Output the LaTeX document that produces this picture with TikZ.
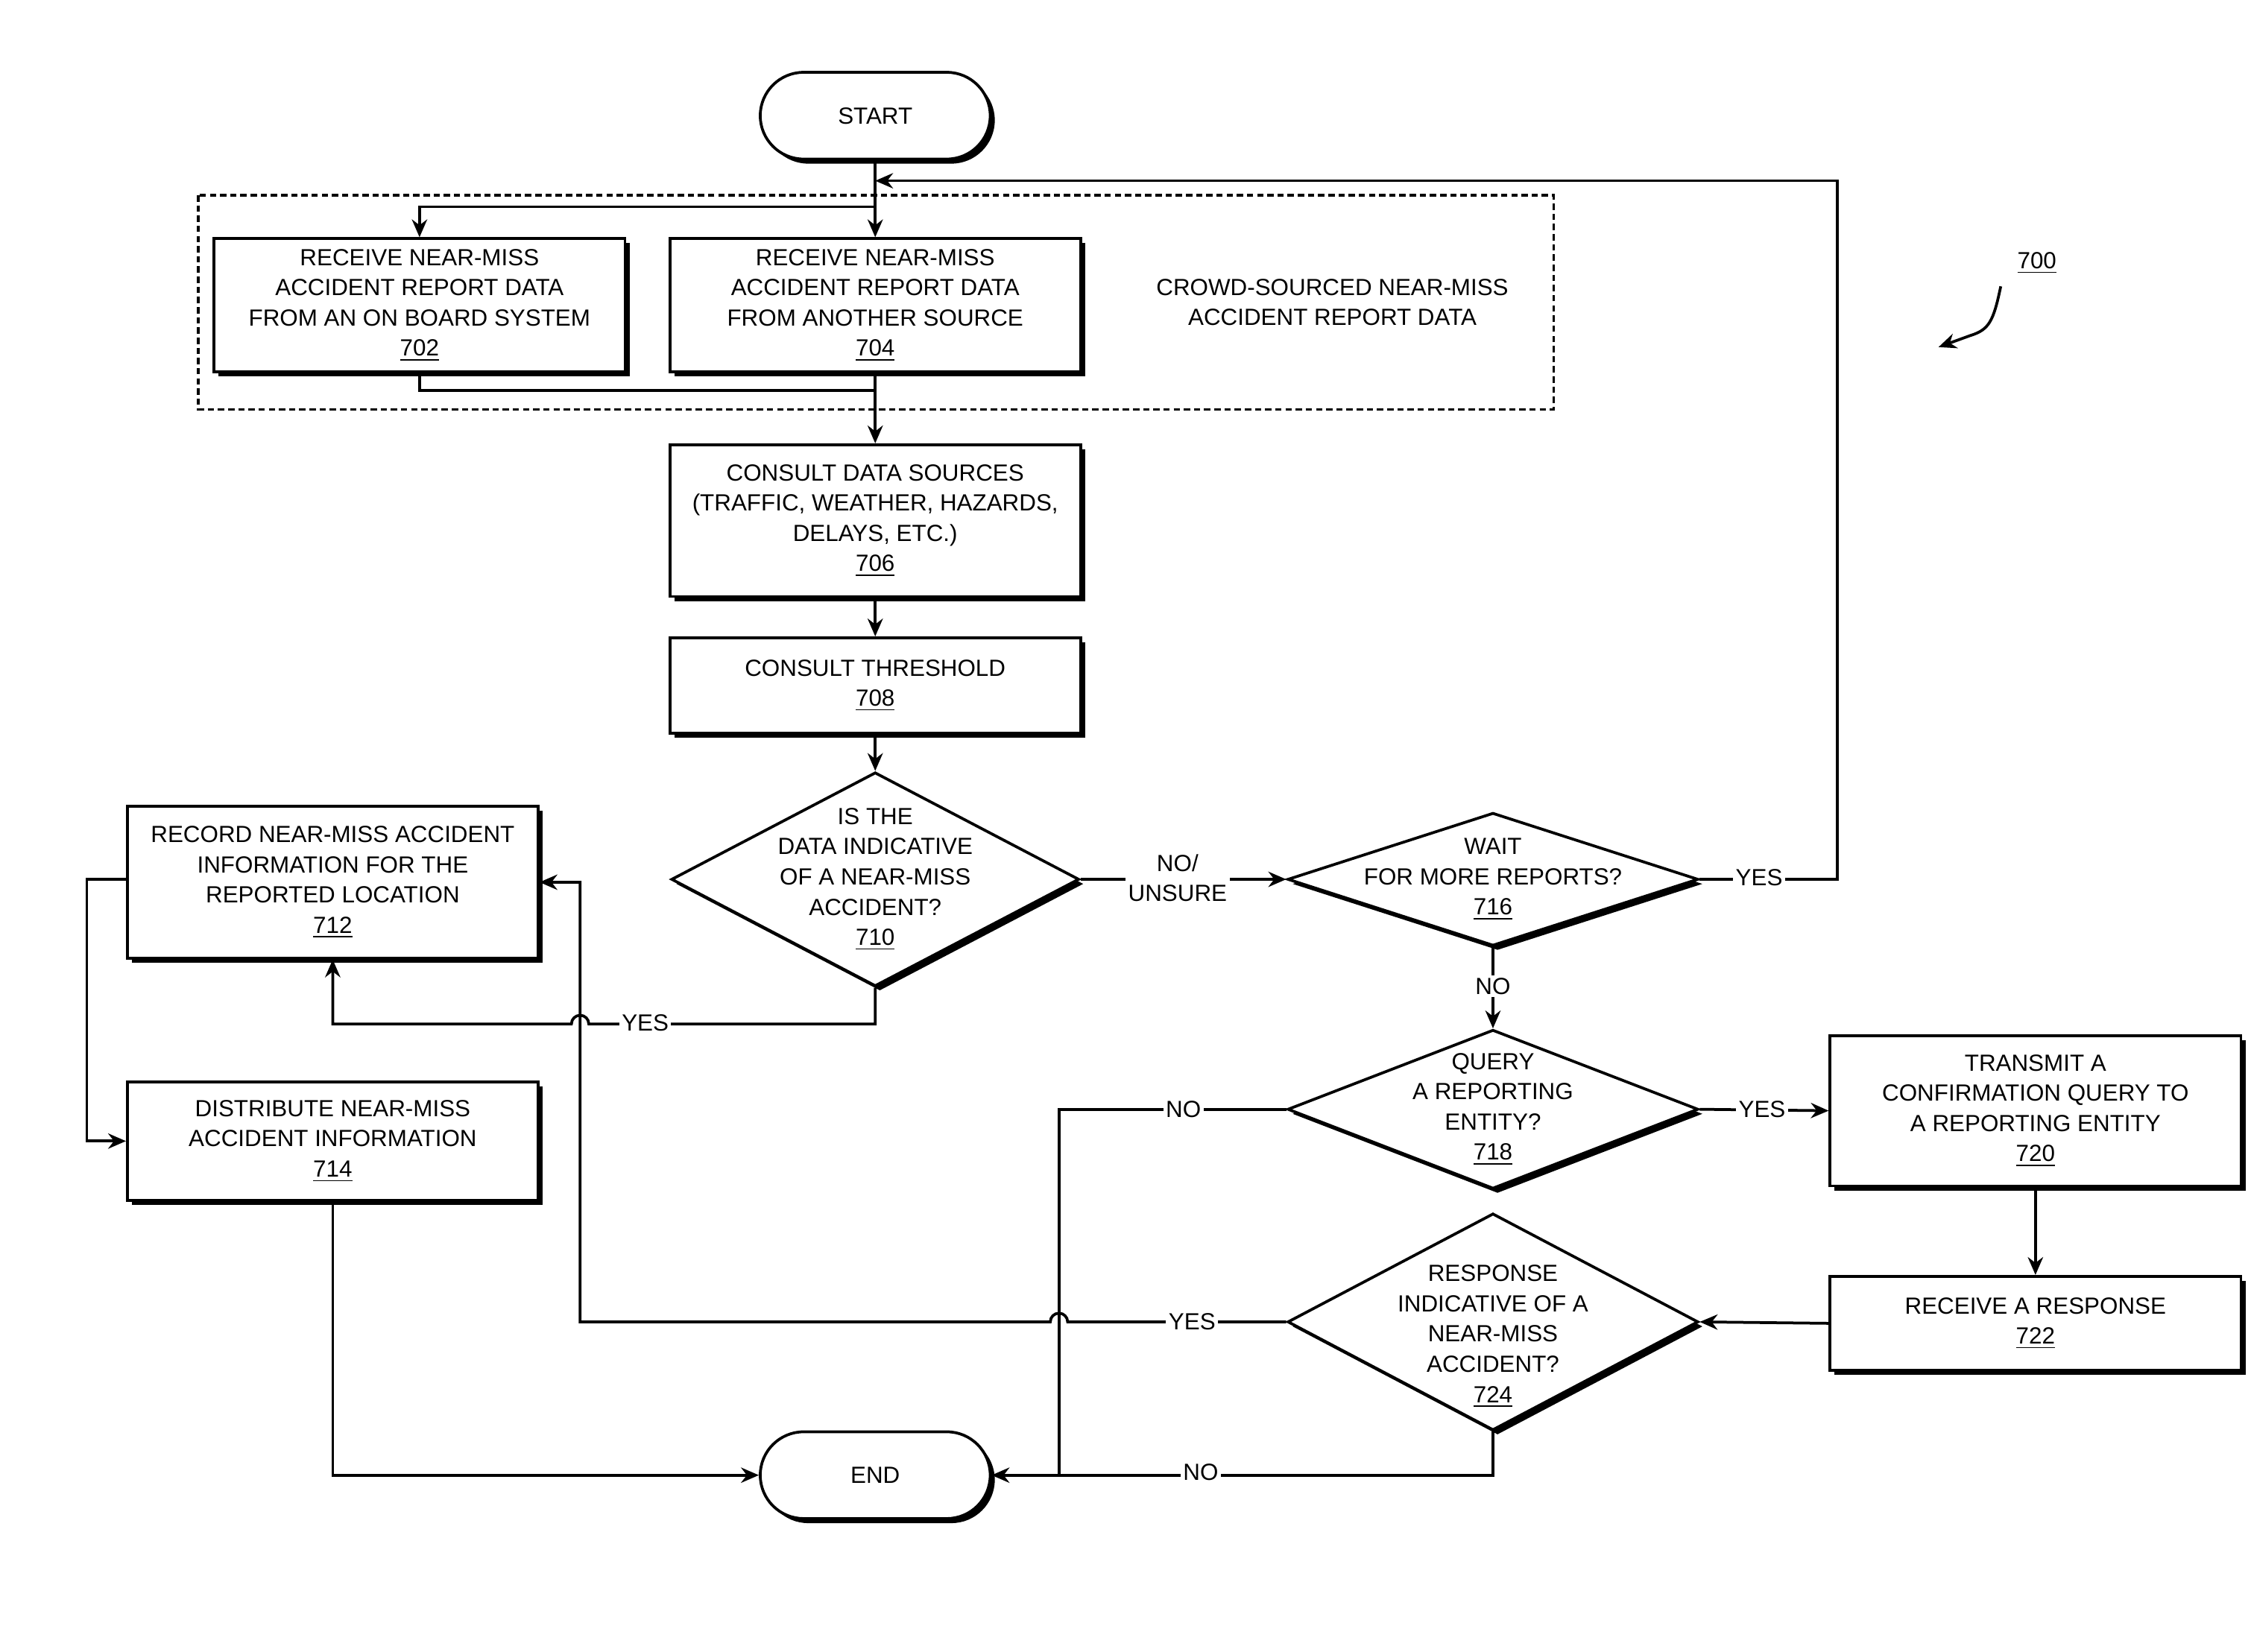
\documentclass[tikz,border=0pt]{standalone}
\usepackage{fontspec}
\setmainfont{Liberation Sans}
\usetikzlibrary{shapes.geometric,shadows,arrows.meta}
\begin{document}
\begin{tikzpicture}[x=0.02cm,y=-0.02cm,
  font=\fontsize{9.2}{11.9}\selectfont,
  sh/.style={drop shadow={shadow xshift=1.8pt,shadow yshift=-1.8pt,fill=black,opacity=1}},
  box/.style={draw,line width=1.1pt,fill=white,sh,align=center,inner sep=0pt},
  term/.style={box,rounded corners=0.6cm,minimum width=3.18cm,minimum height=1.2cm},
  dia/.style={draw,diamond,line width=1.1pt,fill=white,sh,inner sep=0pt},
  txt/.style={align=center,inner sep=0pt},
  lab/.style={fill=white,inner sep=1pt,align=center},
  ln/.style={line width=1.1pt},
  ar/.style={ln,-{Stealth[length=7pt,width=6pt]}}]
\useasboundingbox (0,0) rectangle (1556,1142);
\node[term] (start) at (605,80) {START};
\draw[line width=1pt,dash pattern=on 2.5pt off 1.5pt] (137,135) rectangle (1074,283);
\node[box,minimum width=5.68cm,minimum height=1.84cm] (b702) at (290,211) {RECEIVE NEAR-MISS\\ACCIDENT REPORT DATA\\FROM AN ON BOARD SYSTEM\\\underline{702}};
\node[box,minimum width=5.68cm,minimum height=1.84cm] (b704) at (605,211) {RECEIVE NEAR-MISS\\ACCIDENT REPORT DATA\\FROM ANOTHER SOURCE\\\underline{704}};
\node[txt] (crowd) at (921,209) {CROWD-SOURCED NEAR-MISS\\ACCIDENT REPORT DATA};
\node[txt] (n700) at (1408,182) {\underline{700}};
\coordinate (s1) at (1383,198);
\coordinate (s2) at (1340,240);
\draw[ar] (s1) .. controls (1378,222) and (1375,228) .. (1362,232) -- (s2);
\node[box,minimum width=5.68cm,minimum height=2.1cm] (b706) at (605,360) {CONSULT DATA SOURCES\\(TRAFFIC, WEATHER, HAZARDS,\\DELAYS, ETC.)\\\underline{706}};
\node[box,minimum width=5.68cm,minimum height=1.32cm] (b708) at (605,474) {CONSULT THRESHOLD\\\underline{708}};
\node[dia,minimum width=5.64cm,minimum height=2.96cm] (d710) at (605,608) {};
\node[txt] at (605,608) {IS THE\\DATA INDICATIVE\\OF A NEAR-MISS\\ACCIDENT?\\\underline{710}};
\node[box,minimum width=5.68cm,minimum height=2.1cm] (b712) at (230,610) {RECORD NEAR-MISS ACCIDENT\\INFORMATION FOR THE\\REPORTED LOCATION\\\underline{712}};
\node[box,minimum width=5.68cm,minimum height=1.64cm] (b714) at (230,789) {DISTRIBUTE NEAR-MISS\\ACCIDENT INFORMATION\\\underline{714}};
\node[dia,minimum width=5.68cm,minimum height=1.84cm] (d716) at (1032,608) {};
\node[txt] at (1032,608) {WAIT\\FOR MORE REPORTS?\\\underline{716}};
\node[dia,minimum width=5.68cm,minimum height=2.2cm] (d718) at (1032,767) {};
\node[txt] at (1032,767) {QUERY\\A REPORTING\\ENTITY?\\\underline{718}};
\node[box,minimum width=5.68cm,minimum height=2.08cm] (b720) at (1407,768) {TRANSMIT A\\CONFIRMATION QUERY TO\\A REPORTING ENTITY\\\underline{720}};
\node[box,minimum width=5.68cm,minimum height=1.3cm] (b722) at (1407,915) {RECEIVE A RESPONSE\\\underline{722}};
\node[dia,minimum width=5.68cm,minimum height=3cm] (d724) at (1032,914) {};
\node[txt] at (1032,924) {RESPONSE\\INDICATIVE OF A\\NEAR-MISS\\ACCIDENT?\\\underline{724}};
\node[term] (end) at (605,1020) {END};
% connectors
\draw[ar] (start.south) -- (b704.north);
\coordinate (br) at (605,143);
\draw[ar] (br) -| (b702.north);
\coordinate (t1) at (290,270);
\coordinate (t2) at (605,270);
\draw[ln] (b702.south) -- (t1) -- (t2);
\draw[ar] (b704.south) -- (b706.north);
\draw[ar] (b706.south) -- (b708.north);
\draw[ar] (b708.south) -- (d710.north);
\coordinate (y1) at (605,708);
\draw[ar] (d710.south) -- (y1) -- (407,708) arc[start angle=0,end angle=180,radius=0.12cm] -- (230,708) -- (b712.south);
\node[lab] at (446,707) {YES};
\coordinate (l1) at (60,608);
\coordinate (l2) at (60,789);
\draw[ar] (b712.west |- l1) -- (l1) -- (l2) -- (b714.west);
\draw[ar] (d710.east) -- (d716.west);
\node[lab] at (814,607) {NO/\\UNSURE};
\coordinate (r1) at (1270,608);
\coordinate (r2) at (1270,125);
\coordinate (r3) at (605,125);
\draw[ar] (d716.east) -- (r1) -- (r2) -- (r3);
\node[lab] at (1216,607) {YES};
\draw[ar] (d716.south) -- (d718.north);
\node[lab] at (1032,682) {NO};
\draw[ar] (d718.east) -- (b720.west);
\node[lab] at (1218,767) {YES};
\coordinate (n1) at (732,767);
\coordinate (n2) at (732,1020);
\draw[ar] (d718.west) -- (n1) -- (n2) -- (end.east);
\node[lab] at (818,767) {NO};
\draw[ar] (b720.south) -- (b722.north);
\draw[ar] (b722.west) -- (d724.east);
\coordinate (y2) at (401,914);
\coordinate (y3) at (401,610);
\draw[ar] (d724.west) -- (738,914) arc[start angle=0,end angle=180,radius=0.12cm] -- (y2) -- (y3) -- (b712.east);
\node[lab] at (824,914) {YES};
\coordinate (n3) at (1032,1020);
\draw[ln] (d724.south) -- (n3) -- (n2);
\node[lab] at (830,1018) {NO};
\coordinate (e1) at (230,1020);
\draw[ar] (b714.south) -- (e1) -- (end.west);
\end{tikzpicture}
\end{document}
